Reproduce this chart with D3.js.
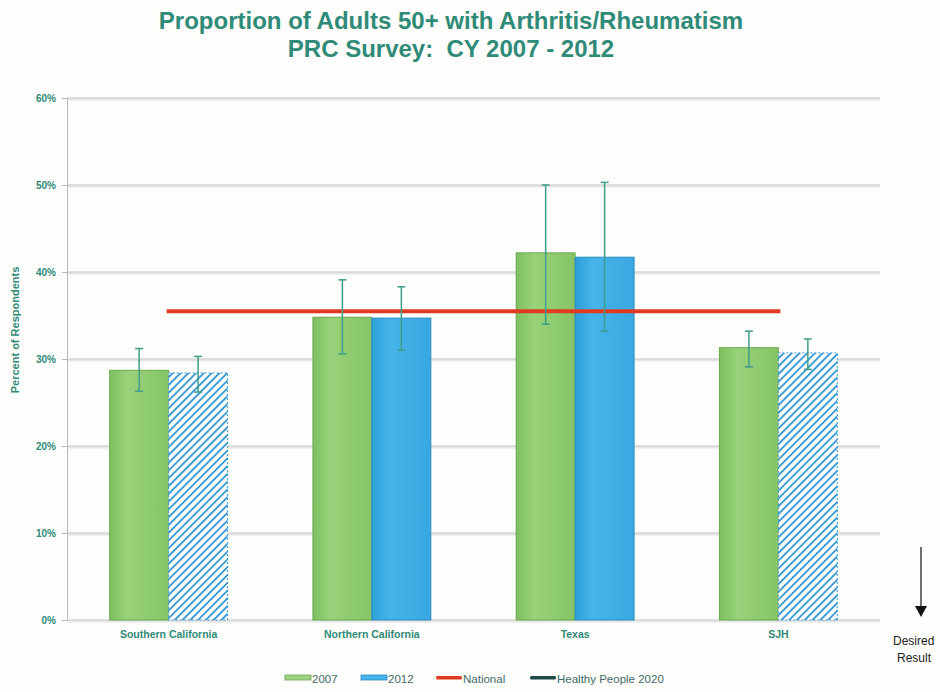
<!DOCTYPE html>
<html><head><meta charset="utf-8">
<script src="https://cdn.jsdelivr.net/npm/d3@7"></script>
<style>
body{margin:0;background:#fff;}
svg{display:block;}
</style></head>
<body><svg id="c" width="940" height="692"></svg>
<script>
const categories = ["Southern California","Northern California","Texas","SJH"];
const series = ["2007","2012"];
const values2007 = [28.7, 34.8, 42.2, 31.3];
const values2012 = [28.4, 34.7, 41.7, 30.7];
const errLow2007 = [26.3, 30.6, 34.0, 29.1];
const errHigh2007 = [31.2, 39.1, 50.0, 33.2];
const errLow2012 = [26.2, 31.0, 33.2, 28.8];
const errHigh2012 = [30.3, 38.3, 50.3, 32.3];
const hatched2012 = [true, false, false, true];
const nationalValue = 35.5;
const yTicks = [0,10,20,30,40,50,60];
const legendItems = ["2007","2012","National","Healthy People 2020"];
const titleLines = ["Proportion of Adults 50+ with Arthritis/Rheumatism","PRC Survey:  CY 2007 - 2012"];

const svg = d3.select("#c");
const teal = "#2f8a78";
const m = {left:67, right:880, top:98, bottom:620};
const font = "'Liberation Sans Narrow','Arial Narrow','Liberation Sans',Arial,sans-serif";

svg.append("rect").attr("width",940).attr("height",692).attr("fill","#fdfdfb");

const defs = svg.append("defs");
const gg = defs.append("linearGradient").attr("id","gGreen").attr("x1",0).attr("x2",1);
gg.append("stop").attr("offset",0).attr("stop-color","#7dbf5e");
gg.append("stop").attr("offset",0.3).attr("stop-color","#98d27a");
gg.append("stop").attr("offset",1).attr("stop-color","#86c466");
const gb = defs.append("linearGradient").attr("id","gBlue").attr("x1",0).attr("x2",1);
gb.append("stop").attr("offset",0).attr("stop-color","#2f9fd8");
gb.append("stop").attr("offset",0.3).attr("stop-color","#45b4ea");
gb.append("stop").attr("offset",1).attr("stop-color","#3aa8e0");
const pat = defs.append("pattern").attr("id","hatch").attr("patternUnits","userSpaceOnUse")
  .attr("width",5.5).attr("height",5.5).attr("patternTransform","rotate(45)");
pat.append("rect").attr("width",5.5).attr("height",5.5).attr("fill","#ffffff");
pat.append("rect").attr("x",0).attr("width",1.9).attr("height",5.5).attr("fill","#3a9ad6");

const x = d3.scaleBand().domain(categories).range([m.left,m.right]).paddingInner(0.42).paddingOuter(0.21);
const xs = d3.scaleBand().domain(series).range([0,x.bandwidth()]);
const y = d3.scaleLinear().domain([0,60]).range([m.bottom,m.top]);

svg.append("g").selectAll("line").data(yTicks).join("line")
  .attr("x1",m.left).attr("x2",m.right).attr("y1",d=>y(d)+1.5).attr("y2",d=>y(d)+1.5)
  .attr("stroke","#e6e6e6").attr("stroke-width",2);
svg.append("g").selectAll("line").data(yTicks).join("line")
  .attr("x1",m.left).attr("x2",m.right).attr("y1",d=>y(d)).attr("y2",d=>y(d))
  .attr("stroke","#c4c4c4").attr("stroke-width",1.2);

const yAxis = svg.append("g").attr("transform",`translate(${m.left},0)`)
  .call(d3.axisLeft(y).tickValues(yTicks).tickFormat(d=>d+"%").tickSize(5).tickPadding(6));
yAxis.select(".domain").attr("stroke","#b8b8b8");
yAxis.selectAll(".tick line").attr("stroke","#b8b8b8");
yAxis.selectAll("text").attr("fill",teal).attr("font-family","'Liberation Sans',Arial,sans-serif")
  .attr("font-weight","bold").attr("font-size",10);

const xAxis = svg.append("g").attr("transform",`translate(0,${m.bottom})`)
  .call(d3.axisBottom(x).tickSize(0).tickPadding(11));
xAxis.select(".domain").remove();
xAxis.selectAll("text").attr("fill",teal).attr("font-family","'Liberation Sans',Arial,sans-serif")
  .attr("font-weight","bold").attr("font-size",10.5);

const rows = categories.map((c,i)=>[
  {c, s:"2007", v:values2007[i], lo:errLow2007[i], hi:errHigh2007[i], fill:"url(#gGreen)", stroke:"#6aa94f"},
  {c, s:"2012", v:values2012[i], lo:errLow2012[i], hi:errHigh2012[i],
   fill: hatched2012[i] ? "url(#hatch)" : "url(#gBlue)", stroke: hatched2012[i] ? "#3a9ad6" : "#2b8cc4", dash: hatched2012[i]}
]).flat();

svg.append("g").selectAll("rect").data(rows).join("rect")
  .attr("x",d=>x(d.c)+xs(d.s)).attr("width",xs.bandwidth())
  .attr("y",d=>y(d.v)).attr("height",d=>y(0)-y(d.v))
  .attr("fill",d=>d.fill).attr("stroke",d=>d.stroke).attr("stroke-width",1)
  .attr("stroke-dasharray",d=>d.dash?"2,2":null);

svg.append("line")
  .attr("x1",x(categories[0])+x.bandwidth()/2-2).attr("x2",x(categories[3])+x.bandwidth()/2+2)
  .attr("y1",y(nationalValue)).attr("y2",y(nationalValue))
  .attr("stroke","#e03a22").attr("stroke-width",4);

const eb = svg.append("g").attr("stroke","#3f9c8a").attr("stroke-width",1.5);
rows.forEach(d=>{
  const cx = x(d.c)+xs(d.s)+xs.bandwidth()/2;
  eb.append("line").attr("x1",cx).attr("x2",cx).attr("y1",y(d.hi)).attr("y2",y(d.lo));
  eb.append("line").attr("x1",cx-4).attr("x2",cx+4).attr("y1",y(d.hi)).attr("y2",y(d.hi));
  eb.append("line").attr("x1",cx-4).attr("x2",cx+4).attr("y1",y(d.lo)).attr("y2",y(d.lo));
});

svg.append("g").selectAll("text").data(titleLines).join("text")
  .attr("x",451).attr("y",(d,i)=>29+i*28).attr("text-anchor","middle")
  .style("white-space","pre")
  .attr("font-family",font).attr("font-weight","bold").attr("font-size",24)
  .attr("fill",teal).text(d=>d);

svg.append("text").attr("transform",`translate(19,330) rotate(-90)`)
  .attr("text-anchor","middle").attr("font-family","'Liberation Sans',Arial,sans-serif")
  .attr("font-size",11).attr("font-weight","bold").attr("fill",teal).text("Percent of Respondents");

const legX = [285, 361, 436, 530];
const legColors = ["#9fd284","#45b4ea","#e03a22","#1f4a4a"];
const legStroke = ["#6aa94f","#2b8cc4","#e03a22","#1f4a4a"];
const lg = svg.append("g");
legendItems.forEach((t,i)=>{
  const isLine = i>=2;
  lg.append("rect").attr("x",legX[i]).attr("y",isLine?676:675).attr("width",26).attr("height",isLine?3.5:5)
    .attr("rx",isLine?1.5:0)
    .attr("fill",legColors[i]).attr("stroke",isLine?"none":legStroke[i]).attr("stroke-width",0.8);
  lg.append("text").attr("x",legX[i]+27).attr("y",683).attr("font-family","'Liberation Sans',Arial,sans-serif")
    .attr("font-size",11.5).attr("fill","#3d6b68").text(t);
});

svg.append("line").attr("x1",921).attr("x2",921).attr("y1",547).attr("y2",607).attr("stroke","#222").attr("stroke-width",1.3);
svg.append("path").attr("d","M915,606 L927,606 L921,617 Z").attr("fill","#111");
svg.append("text").attr("x",893).attr("y",645).attr("font-family","'Liberation Sans',Arial,sans-serif")
  .attr("font-size",12).attr("fill","#222").text("Desired");
svg.append("text").attr("x",897).attr("y",662).attr("font-family","'Liberation Sans',Arial,sans-serif")
  .attr("font-size",12).attr("fill","#222").text("Result");
</script></body></html>
